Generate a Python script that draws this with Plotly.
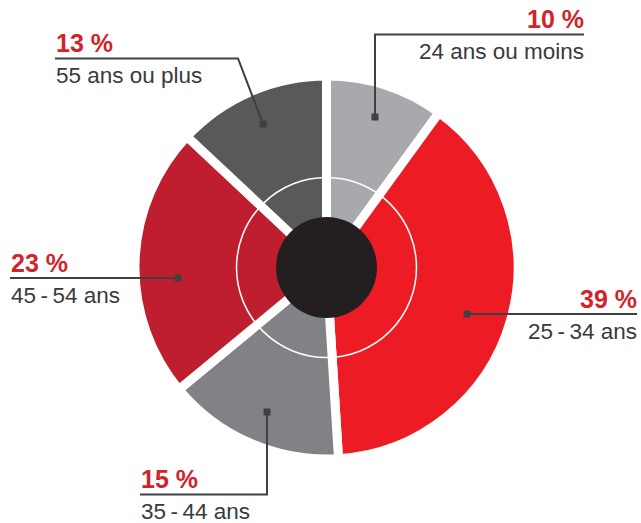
import plotly.graph_objects as go

# ---- data ----
categories = ["24 ans ou moins", "25\u2009-\u200934 ans", "35\u2009-\u200944 ans",
              "45\u2009-\u200954 ans", "55 ans ou plus"]
values = [10, 39, 15, 23, 13]
slice_colors = ["#A7A9AC", "#ED1C24", "#808285", "#BE1E2D", "#58595B"]

# ---- layout geometry (pixels) ----
W, H = 641, 523
CX, CY = 326.5, 267.5
R_PIE = 191.5

# leader layouts: (square position, path points after square, text x, line y, anchor)
leaders = [
    dict(sq=(375, 117), path=[(375, 34.5), (584, 34.5)], tx=584, ly=34.5, anchor="right"),
    dict(sq=(467, 314), path=[(637, 314)], tx=637, ly=314, anchor="right"),
    dict(sq=(267, 412), path=[(267, 494.5), (140, 494.5)], tx=140, ly=494.5, anchor="left"),
    dict(sq=(178, 278), path=[(10, 278)], tx=10, ly=278, anchor="left"),
    dict(sq=(263, 124), path=[(238, 58.5), (55, 58.5)], tx=55, ly=58.5, anchor="left"),
]

fig = go.Figure()

fig.add_trace(go.Pie(
    values=values,
    labels=categories,
    sort=False,
    direction="clockwise",
    rotation=0,
    textinfo="none",
    hoverinfo="label+percent",
    marker=dict(colors=slice_colors, line=dict(color="white", width=9)),
    domain=dict(x=[(CX - R_PIE) / W, (CX + R_PIE) / W],
                y=[(H - (CY + R_PIE)) / H, (H - (CY - R_PIE)) / H]),
    showlegend=False,
))

shapes = []
# thin white ring
r_ring = 90
shapes.append(dict(type="circle", xref="x", yref="y",
                   x0=CX - r_ring, x1=CX + r_ring, y0=CY - r_ring, y1=CY + r_ring,
                   line=dict(color="white", width=1.5), fillcolor="rgba(0,0,0,0)"))
# black center
r_c = 50.5
shapes.append(dict(type="circle", xref="x", yref="y",
                   x0=CX - r_c, x1=CX + r_c, y0=CY - r_c, y1=CY + r_c,
                   line=dict(width=0), fillcolor="#231F20"))

LINE_COLOR = "#404041"
annotations = []
for cat, val, ld in zip(categories, values, leaders):
    pts = [ld["sq"]] + ld["path"]
    path = "M " + " L ".join(f"{x},{y}" for x, y in pts)
    shapes.append(dict(type="path", xref="x", yref="y", path=path,
                       line=dict(color=LINE_COLOR, width=2)))
    sx, sy = ld["sq"]
    s = 3.5
    shapes.append(dict(type="rect", xref="x", yref="y",
                       x0=sx - s, x1=sx + s, y0=sy - s, y1=sy + s,
                       line=dict(width=0), fillcolor=LINE_COLOR))
    xoff = -1.5 if ld["anchor"] == "left" else 1.5
    annotations.append(dict(xref="x", yref="y", x=ld["tx"] + xoff, y=ld["ly"] - 15.3,
                            text=f"<b>{val} %</b>", showarrow=False,
                            xanchor=ld["anchor"], yanchor="middle",
                            font=dict(family="Liberation Sans, Arial, sans-serif",
                                      size=25, color="#D1232A")))
    annotations.append(dict(xref="x", yref="y", x=ld["tx"] + xoff, y=ld["ly"] + 17.2,
                            text=cat, showarrow=False,
                            xanchor=ld["anchor"], yanchor="middle",
                            font=dict(family="Liberation Sans, Arial, sans-serif",
                                      size=22.5, color="#3A3A3A")))

fig.update_layout(
    width=W, height=H,
    margin=dict(l=0, r=0, t=0, b=0),
    paper_bgcolor="white",
    plot_bgcolor="rgba(0,0,0,0)",
    xaxis=dict(range=[0, W], visible=False, fixedrange=True, domain=[0, 1]),
    yaxis=dict(range=[H, 0], visible=False, fixedrange=True, domain=[0, 1]),
    shapes=shapes,
    annotations=annotations,
    showlegend=False,
)

fig.write_html("out.html", config={"displayModeBar": False},
               post_script="document.body.style.margin='0';document.body.style.overflow='hidden';")
